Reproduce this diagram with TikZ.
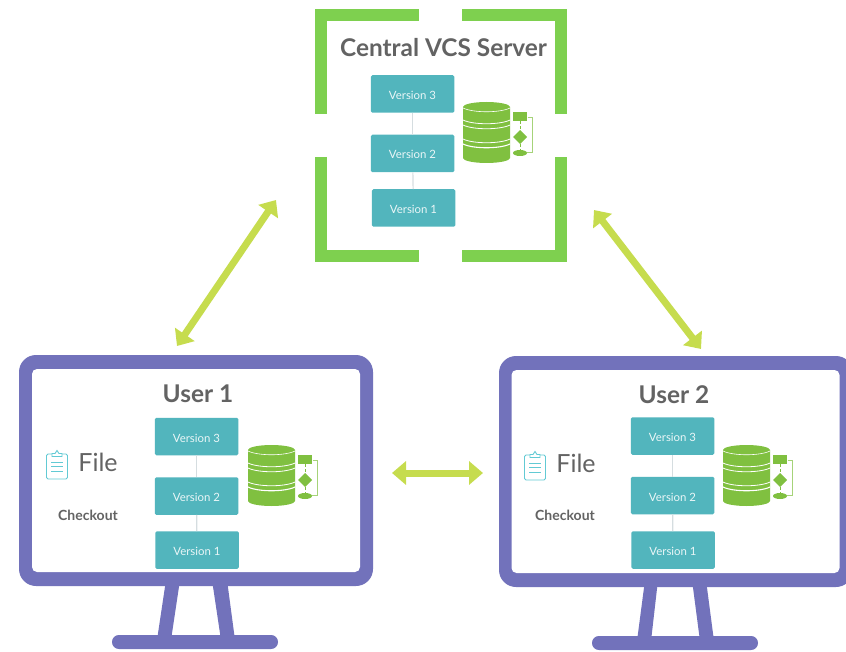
\documentclass[tikz,border=0pt]{standalone}
\usepackage{amsmath, amssymb}
\usepackage{fontspec}
\setmainfont{Lato}
\usepackage{tikz}
\usetikzlibrary{arrows.meta}

\definecolor{framegreen}{HTML}{7ED04F}
\definecolor{dbgreen}{HTML}{80C040}
\definecolor{screenblue}{HTML}{7272BB}
\definecolor{boxteal}{HTML}{52B5BD}
\definecolor{arrowlime}{HTML}{C6DC4E}
\definecolor{linegray}{HTML}{D5DDE0}
\definecolor{textgray}{HTML}{636363}
\definecolor{clipcyan}{HTML}{62CAD4}

\begin{document}
\begin{tikzpicture}[x=1pt,y=-1pt]
\tikzstyle{version}=[fill=boxteal, text=white!88!boxteal, rounded corners=1.5pt, minimum width=83.5pt, minimum height=37.5pt, inner sep=0pt, text height=11pt, text depth=0pt, font=\fontsize{11.4}{13}\selectfont]
\tikzstyle{link}=[linegray, line width=1.2pt]
\tikzstyle{bracket}=[framegreen, line width=11.5pt, line cap=butt, line join=miter]
\tikzstyle{screen}=[fill=screenblue, rounded corners=17pt, minimum width=354pt, minimum height=231pt, inner sep=0pt]
\tikzstyle{inner}=[fill=white, rounded corners=5pt, minimum width=328pt, minimum height=203pt, inner sep=0pt]
\tikzstyle{title}=[text=textgray, font=\fontsize{24.4}{30}\selectfont\bfseries, inner sep=0pt]
\tikzstyle{filename}=[text=textgray, font=\fontsize{25}{30}\selectfont, inner sep=0pt]
\tikzstyle{checkout}=[text=textgray, font=\fontsize{14}{16}\selectfont\bfseries, inner sep=0pt]
\tikzstyle{both}=[arrowlime, line width=7pt, {Triangle[width=23pt,length=14pt]}-{Triangle[width=23pt,length=14pt]}]
\tikzset{
  dbicon/.pic={
    \fill[dbgreen] (0,5) arc[start angle=180, end angle=0, x radius=23.5pt, y radius=5pt] -- (47,56) arc[start angle=0, end angle=-180, x radius=23.5pt, y radius=5pt] -- cycle;
    \draw[white, line width=0.6pt] (0,6) .. controls (10,11) and (37,11) .. (47,6);
    \draw[white, line width=0.8pt] (0,18) .. controls (10,23) and (37,23) .. (47,18);
    \draw[white, line width=0.8pt] (0,23) .. controls (10,28) and (37,28) .. (47,23);
    \draw[white, line width=0.8pt] (0,37) .. controls (10,42) and (37,42) .. (47,37);
    \draw[white, line width=1.1pt] (0,42) .. controls (10,47) and (37,47) .. (47,42);
    \fill[dbgreen] (49.5,10) rectangle (64,19);
    \fill[dbgreen] (57,28) -- (64,35) -- (57,42) -- (50,35) -- cycle;
    \fill[dbgreen] (57,51) ellipse[x radius=7pt, y radius=3pt];
    \draw[dbgreen, line width=0.8pt, densely dashed] (57,19) -- (57,28);
    \draw[dbgreen, line width=0.8pt, densely dashed] (57,42) -- (57,48);
    \draw[dbgreen!70, line width=0.8pt] (64.5,15) -- (69,15) -- (69,50) -- (64,50);
  },
  clipicon/.pic={
    \draw[clipcyan, line width=0.9pt, rounded corners=1.5pt] (0.5,4) rectangle (21.5,29);
    \draw[clipcyan, line width=0.9pt, fill=white] (6,6.5) -- (6,3.5) -- (9,3.5) -- (11,0.5) -- (13,3.5) -- (16,3.5) -- (16,6.5) -- cycle;
    \draw[clipcyan, line width=0.8pt] (5,12) -- (17,12);
    \draw[clipcyan, line width=0.8pt] (5,16.5) -- (17,16.5);
    \draw[clipcyan, line width=0.8pt] (5,21) -- (17,21);
  }
}
\useasboundingbox (0,0) rectangle (846,652);

% server frame
\draw[bracket] (321,114) -- (321,15) -- (419,15);
\draw[bracket] (462,15) -- (561,15) -- (561,114);
\draw[bracket] (321,157) -- (321,256) -- (419,256);
\draw[bracket] (462,256) -- (561,256) -- (561,157);
\node (servertitle) at (443.5,47.5) [title] {Central VCS Server};
\node (s3) at (412.5,94) [version] {Version 3};
\node (s2) at (412.5,153.5) [version] {Version 2};
\node (s1) at (413.5,208) [version] {Version 1};
\draw[link] (s3) -- (s2);
\draw[link] (s2) -- (s1);
\pic at (463,102) {dbicon};

% user 1
\fill[screenblue] (166,580) -- (180,580) -- (171,640) -- (157,640) -- cycle;
\fill[screenblue] (212,580) -- (227,580) -- (235,640) -- (221,640) -- cycle;
\fill[screenblue, rounded corners=6.9pt] (112,635) rectangle (278,649);
\node (screen1) at (196,470.5) [screen] {};
\node (inner1) at (196,470.5) [inner] {};
\node (user1) at (198,393.5) [title] {User 1};
\node (file1) at (98,462.5) [filename] {File};
\node (check1) at (88,515.5) [checkout] {Checkout};
\node (a3) at (196.5,436.5) [version] {Version 3};
\node (a2) at (196.5,496) [version] {Version 2};
\node (a1) at (197,550) [version] {Version 1};
\draw[link] (a3) -- (a2);
\draw[link] (a2) -- (a1);
\pic at (248,445) {dbicon};
\pic at (46,450) {clipicon};

% user 2
\fill[screenblue] (645,580) -- (658,580) -- (651,641) -- (637,641) -- cycle;
\fill[screenblue] (692,580) -- (706,580) -- (714,641) -- (700,641) -- cycle;
\fill[screenblue, rounded corners=6.9pt] (592,636) rectangle (758,650);
\node (screen2) at (676,471.5) [screen] {};
\node (inner2) at (675.5,471.5) [inner] {};
\node (user2) at (674,394.5) [title] {User 2};
\node (file2) at (576,463.5) [filename] {File};
\node (check2) at (565,515.5) [checkout] {Checkout};
\node (b3) at (672.5,436) [version] {Version 3};
\node (b2) at (672.5,495.5) [version] {Version 2};
\node (b1) at (673,550) [version] {Version 1};
\draw[link] (b3) -- (b2);
\draw[link] (b2) -- (b1);
\pic at (723,445) {dbicon};
\pic at (524,451) {clipicon};

% arrows
\coordinate (p1) at (177,346);
\coordinate (p2) at (276,200);
\coordinate (p3) at (594,210);
\coordinate (p4) at (701,349);
\coordinate (p5) at (392,473);
\coordinate (p6) at (483,473);
\draw[both] (p1) -- (p2);
\draw[both] (p3) -- (p4);
\draw[both] (p5) -- (p6);
\end{tikzpicture}
\end{document}
